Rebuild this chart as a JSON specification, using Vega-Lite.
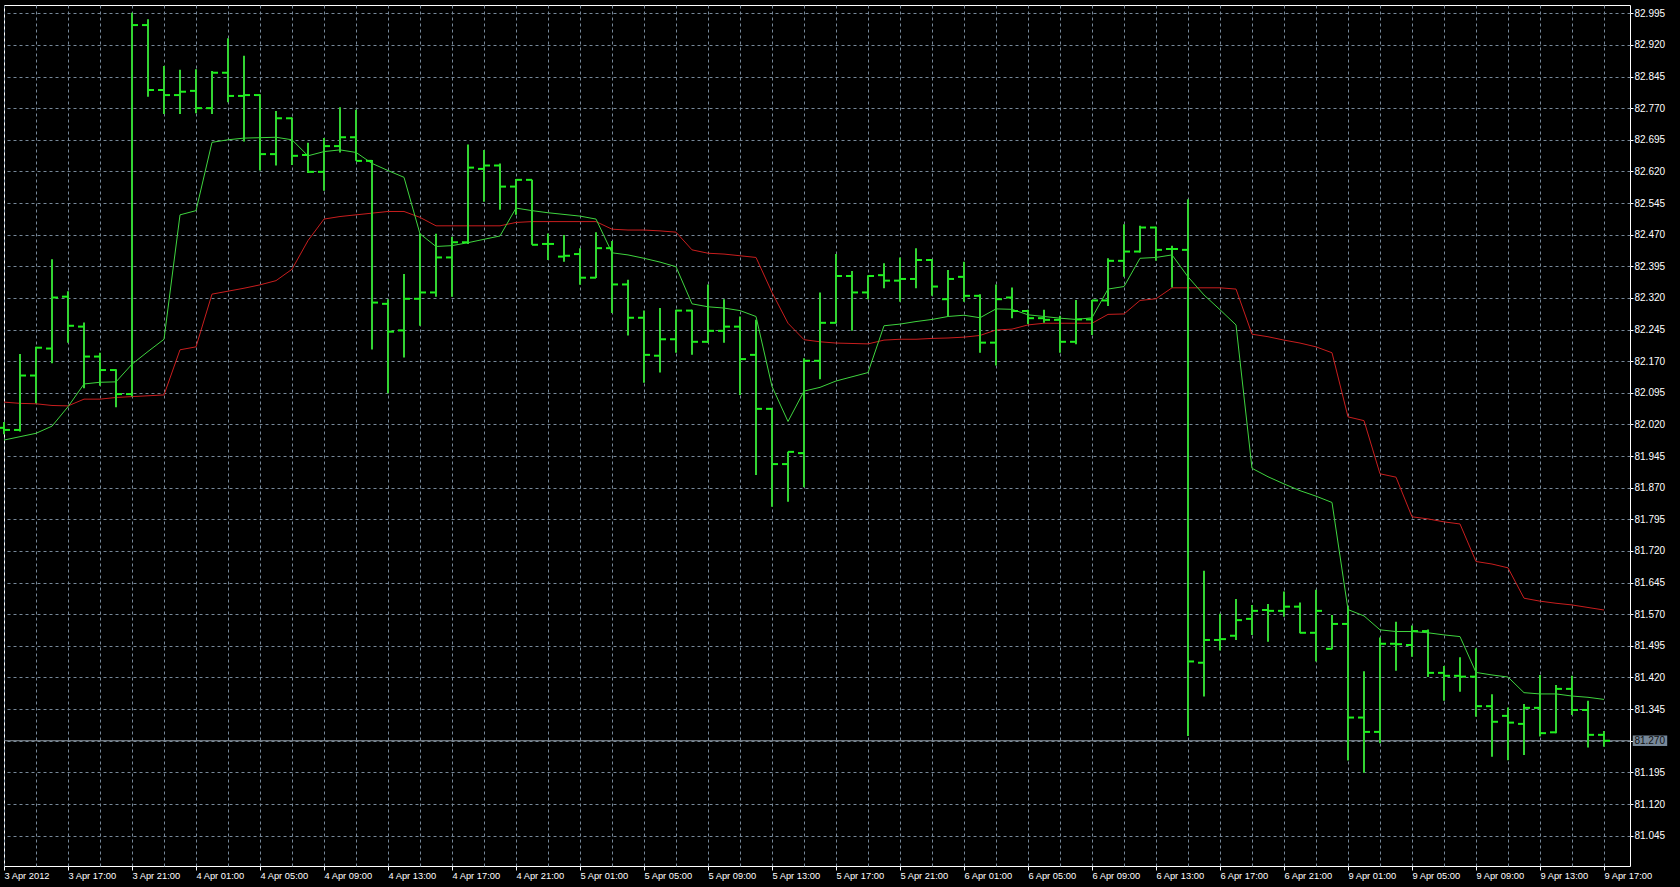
{
  "$schema": "https://vega.github.io/schema/vega-lite/v6.json",
  "width": 1626,
  "height": 861,
  "autosize": {"type": "none"},
  "padding": {"left": 4, "top": 5, "right": 50, "bottom": 21},
  "background": "#000000",
  "config": {
    "view": {"stroke": "#ffffff", "strokeWidth": 1, "fill": "#000000"},
    "font": "Liberation Sans",
    "axis": {"labelOverlap": false}
  },
  "data": {"values": [
    {"i":0,"t":"3 Apr 13:00","o":82.012,"h":82.026,"l":81.997,"c":82.007,"g":81.983,"r":82.073},
    {"i":1,"t":"3 Apr 14:00","o":82.007,"h":82.187,"l":82.003,"c":82.136,"g":81.991,"r":82.070},
    {"i":2,"t":"3 Apr 15:00","o":82.136,"h":82.204,"l":82.070,"c":82.202,"g":81.999,"r":82.069},
    {"i":3,"t":"3 Apr 16:00","o":82.200,"h":82.412,"l":82.165,"c":82.321,"g":82.016,"r":82.065},
    {"i":4,"t":"3 Apr 17:00","o":82.323,"h":82.336,"l":82.214,"c":82.254,"g":82.062,"r":82.064},
    {"i":5,"t":"3 Apr 18:00","o":82.252,"h":82.262,"l":82.106,"c":82.181,"g":82.116,"r":82.080},
    {"i":6,"t":"3 Apr 19:00","o":82.181,"h":82.190,"l":82.112,"c":82.149,"g":82.120,"r":82.080},
    {"i":7,"t":"3 Apr 20:00","o":82.149,"h":82.151,"l":82.061,"c":82.092,"g":82.121,"r":82.084},
    {"i":8,"t":"3 Apr 21:00","o":82.092,"h":82.996,"l":82.086,"c":82.967,"g":82.163,"r":82.086},
    {"i":9,"t":"3 Apr 22:00","o":82.967,"h":82.981,"l":82.797,"c":82.813,"g":82.193,"r":82.088},
    {"i":10,"t":"3 Apr 23:00","o":82.813,"h":82.870,"l":82.756,"c":82.801,"g":82.222,"r":82.090},
    {"i":11,"t":"4 Apr 00:00","o":82.801,"h":82.861,"l":82.756,"c":82.809,"g":82.517,"r":82.197},
    {"i":12,"t":"4 Apr 01:00","o":82.811,"h":82.862,"l":82.758,"c":82.770,"g":82.527,"r":82.204},
    {"i":13,"t":"4 Apr 02:00","o":82.770,"h":82.858,"l":82.756,"c":82.854,"g":82.689,"r":82.329},
    {"i":14,"t":"4 Apr 03:00","o":82.854,"h":82.936,"l":82.784,"c":82.799,"g":82.695,"r":82.336},
    {"i":15,"t":"4 Apr 04:00","o":82.799,"h":82.894,"l":82.691,"c":82.801,"g":82.699,"r":82.343},
    {"i":16,"t":"4 Apr 05:00","o":82.801,"h":82.803,"l":82.622,"c":82.661,"g":82.700,"r":82.351},
    {"i":17,"t":"4 Apr 06:00","o":82.661,"h":82.763,"l":82.634,"c":82.746,"g":82.701,"r":82.361},
    {"i":18,"t":"4 Apr 07:00","o":82.746,"h":82.748,"l":82.635,"c":82.657,"g":82.695,"r":82.388},
    {"i":19,"t":"4 Apr 08:00","o":82.659,"h":82.688,"l":82.616,"c":82.619,"g":82.657,"r":82.456},
    {"i":20,"t":"4 Apr 09:00","o":82.619,"h":82.699,"l":82.574,"c":82.680,"g":82.667,"r":82.507},
    {"i":21,"t":"4 Apr 10:00","o":82.680,"h":82.772,"l":82.665,"c":82.701,"g":82.671,"r":82.513},
    {"i":22,"t":"4 Apr 11:00","o":82.701,"h":82.766,"l":82.645,"c":82.645,"g":82.665,"r":82.517},
    {"i":23,"t":"4 Apr 12:00","o":82.645,"h":82.647,"l":82.198,"c":82.309,"g":82.639,"r":82.521},
    {"i":24,"t":"4 Apr 13:00","o":82.306,"h":82.317,"l":82.094,"c":82.240,"g":82.622,"r":82.525},
    {"i":25,"t":"4 Apr 14:00","o":82.243,"h":82.377,"l":82.179,"c":82.318,"g":82.606,"r":82.525},
    {"i":26,"t":"4 Apr 15:00","o":82.318,"h":82.473,"l":82.254,"c":82.333,"g":82.472,"r":82.511},
    {"i":27,"t":"4 Apr 16:00","o":82.333,"h":82.472,"l":82.323,"c":82.416,"g":82.442,"r":82.491},
    {"i":28,"t":"4 Apr 17:00","o":82.416,"h":82.465,"l":82.323,"c":82.452,"g":82.444,"r":82.491},
    {"i":29,"t":"4 Apr 18:00","o":82.452,"h":82.684,"l":82.448,"c":82.629,"g":82.451,"r":82.491},
    {"i":30,"t":"4 Apr 19:00","o":82.626,"h":82.671,"l":82.548,"c":82.634,"g":82.459,"r":82.491},
    {"i":31,"t":"4 Apr 20:00","o":82.634,"h":82.639,"l":82.529,"c":82.584,"g":82.467,"r":82.491},
    {"i":32,"t":"4 Apr 21:00","o":82.584,"h":82.602,"l":82.517,"c":82.600,"g":82.533,"r":82.499},
    {"i":33,"t":"4 Apr 22:00","o":82.600,"h":82.600,"l":82.446,"c":82.446,"g":82.527,"r":82.501},
    {"i":34,"t":"4 Apr 23:00","o":82.448,"h":82.473,"l":82.410,"c":82.448,"g":82.522,"r":82.501},
    {"i":35,"t":"5 Apr 00:00","o":82.418,"h":82.469,"l":82.406,"c":82.420,"g":82.518,"r":82.501},
    {"i":36,"t":"5 Apr 01:00","o":82.424,"h":82.438,"l":82.351,"c":82.368,"g":82.514,"r":82.501},
    {"i":37,"t":"5 Apr 02:00","o":82.368,"h":82.476,"l":82.367,"c":82.438,"g":82.507,"r":82.501},
    {"i":38,"t":"5 Apr 03:00","o":82.438,"h":82.455,"l":82.284,"c":82.352,"g":82.427,"r":82.483},
    {"i":39,"t":"5 Apr 04:00","o":82.352,"h":82.363,"l":82.231,"c":82.273,"g":82.422,"r":82.481},
    {"i":40,"t":"5 Apr 05:00","o":82.273,"h":82.290,"l":82.119,"c":82.185,"g":82.414,"r":82.481},
    {"i":41,"t":"5 Apr 06:00","o":82.183,"h":82.296,"l":82.143,"c":82.222,"g":82.405,"r":82.479},
    {"i":42,"t":"5 Apr 07:00","o":82.222,"h":82.292,"l":82.190,"c":82.290,"g":82.394,"r":82.476},
    {"i":43,"t":"5 Apr 08:00","o":82.290,"h":82.292,"l":82.185,"c":82.216,"g":82.306,"r":82.434},
    {"i":44,"t":"5 Apr 09:00","o":82.216,"h":82.352,"l":82.213,"c":82.242,"g":82.299,"r":82.426},
    {"i":45,"t":"5 Apr 10:00","o":82.242,"h":82.317,"l":82.214,"c":82.252,"g":82.296,"r":82.424},
    {"i":46,"t":"5 Apr 11:00","o":82.252,"h":82.276,"l":82.090,"c":82.175,"g":82.290,"r":82.420},
    {"i":47,"t":"5 Apr 12:00","o":82.185,"h":82.268,"l":81.900,"c":82.057,"g":82.276,"r":82.416},
    {"i":48,"t":"5 Apr 13:00","o":82.057,"h":82.058,"l":81.825,"c":81.926,"g":82.110,"r":82.333},
    {"i":49,"t":"5 Apr 14:00","o":81.926,"h":81.955,"l":81.837,"c":81.955,"g":82.027,"r":82.260},
    {"i":50,"t":"5 Apr 15:00","o":81.952,"h":82.177,"l":81.871,"c":82.171,"g":82.099,"r":82.221},
    {"i":51,"t":"5 Apr 16:00","o":82.171,"h":82.333,"l":82.127,"c":82.261,"g":82.108,"r":82.216},
    {"i":52,"t":"5 Apr 17:00","o":82.261,"h":82.424,"l":82.260,"c":82.372,"g":82.123,"r":82.213},
    {"i":53,"t":"5 Apr 18:00","o":82.372,"h":82.384,"l":82.242,"c":82.333,"g":82.133,"r":82.212},
    {"i":54,"t":"5 Apr 19:00","o":82.333,"h":82.374,"l":82.317,"c":82.372,"g":82.143,"r":82.211},
    {"i":55,"t":"5 Apr 20:00","o":82.374,"h":82.402,"l":82.343,"c":82.361,"g":82.254,"r":82.220},
    {"i":56,"t":"5 Apr 21:00","o":82.361,"h":82.416,"l":82.311,"c":82.365,"g":82.258,"r":82.222},
    {"i":57,"t":"5 Apr 22:00","o":82.365,"h":82.438,"l":82.343,"c":82.410,"g":82.264,"r":82.222},
    {"i":58,"t":"5 Apr 23:00","o":82.410,"h":82.412,"l":82.325,"c":82.347,"g":82.269,"r":82.224},
    {"i":59,"t":"6 Apr 00:00","o":82.317,"h":82.386,"l":82.276,"c":82.365,"g":82.276,"r":82.225},
    {"i":60,"t":"6 Apr 01:00","o":82.370,"h":82.406,"l":82.311,"c":82.325,"g":82.279,"r":82.227},
    {"i":61,"t":"6 Apr 02:00","o":82.325,"h":82.329,"l":82.190,"c":82.214,"g":82.273,"r":82.231},
    {"i":62,"t":"6 Apr 03:00","o":82.214,"h":82.352,"l":82.160,"c":82.317,"g":82.294,"r":82.244},
    {"i":63,"t":"6 Apr 04:00","o":82.321,"h":82.345,"l":82.272,"c":82.289,"g":82.293,"r":82.246},
    {"i":64,"t":"6 Apr 05:00","o":82.289,"h":82.292,"l":82.258,"c":82.272,"g":82.280,"r":82.256},
    {"i":65,"t":"6 Apr 06:00","o":82.272,"h":82.292,"l":82.261,"c":82.268,"g":82.276,"r":82.260},
    {"i":66,"t":"6 Apr 07:00","o":82.268,"h":82.278,"l":82.190,"c":82.216,"g":82.272,"r":82.260},
    {"i":67,"t":"6 Apr 08:00","o":82.216,"h":82.315,"l":82.210,"c":82.269,"g":82.269,"r":82.260},
    {"i":68,"t":"6 Apr 09:00","o":82.269,"h":82.315,"l":82.232,"c":82.314,"g":82.273,"r":82.260},
    {"i":69,"t":"6 Apr 10:00","o":82.314,"h":82.414,"l":82.301,"c":82.408,"g":82.341,"r":82.281},
    {"i":70,"t":"6 Apr 11:00","o":82.408,"h":82.495,"l":82.370,"c":82.430,"g":82.347,"r":82.282},
    {"i":71,"t":"6 Apr 12:00","o":82.430,"h":82.491,"l":82.428,"c":82.487,"g":82.414,"r":82.314},
    {"i":72,"t":"6 Apr 13:00","o":82.487,"h":82.489,"l":82.408,"c":82.434,"g":82.416,"r":82.318},
    {"i":73,"t":"6 Apr 14:00","o":82.436,"h":82.444,"l":82.345,"c":82.436,"g":82.422,"r":82.344},
    {"i":74,"t":"6 Apr 15:00","o":82.434,"h":82.554,"l":81.281,"c":81.458,"g":82.370,"r":82.344},
    {"i":75,"t":"6 Apr 16:00","o":81.455,"h":81.673,"l":81.375,"c":81.509,"g":82.327,"r":82.344},
    {"i":76,"t":"6 Apr 17:00","o":81.509,"h":81.571,"l":81.484,"c":81.511,"g":82.292,"r":82.344},
    {"i":77,"t":"6 Apr 18:00","o":81.519,"h":81.606,"l":81.509,"c":81.556,"g":82.256,"r":82.341},
    {"i":78,"t":"6 Apr 19:00","o":81.559,"h":81.592,"l":81.521,"c":81.578,"g":81.916,"r":82.234},
    {"i":79,"t":"6 Apr 20:00","o":81.580,"h":81.594,"l":81.505,"c":81.578,"g":81.896,"r":82.228},
    {"i":80,"t":"6 Apr 21:00","o":81.578,"h":81.624,"l":81.564,"c":81.588,"g":81.879,"r":82.220},
    {"i":81,"t":"6 Apr 22:00","o":81.588,"h":81.598,"l":81.525,"c":81.526,"g":81.863,"r":82.213},
    {"i":82,"t":"6 Apr 23:00","o":81.526,"h":81.628,"l":81.458,"c":81.578,"g":81.850,"r":82.204},
    {"i":83,"t":"9 Apr 00:00","o":81.488,"h":81.568,"l":81.487,"c":81.547,"g":81.835,"r":82.190},
    {"i":84,"t":"9 Apr 01:00","o":81.547,"h":81.588,"l":81.223,"c":81.325,"g":81.581,"r":82.038},
    {"i":85,"t":"9 Apr 02:00","o":81.325,"h":81.435,"l":81.194,"c":81.291,"g":81.566,"r":82.029},
    {"i":86,"t":"9 Apr 03:00","o":81.291,"h":81.515,"l":81.264,"c":81.500,"g":81.533,"r":81.903},
    {"i":87,"t":"9 Apr 04:00","o":81.500,"h":81.552,"l":81.436,"c":81.499,"g":81.529,"r":81.895},
    {"i":88,"t":"9 Apr 05:00","o":81.497,"h":81.543,"l":81.469,"c":81.530,"g":81.529,"r":81.801},
    {"i":89,"t":"9 Apr 06:00","o":81.530,"h":81.534,"l":81.421,"c":81.431,"g":81.526,"r":81.796},
    {"i":90,"t":"9 Apr 07:00","o":81.431,"h":81.447,"l":81.365,"c":81.424,"g":81.521,"r":81.789},
    {"i":91,"t":"9 Apr 08:00","o":81.424,"h":81.468,"l":81.386,"c":81.422,"g":81.517,"r":81.784},
    {"i":92,"t":"9 Apr 09:00","o":81.422,"h":81.489,"l":81.327,"c":81.352,"g":81.432,"r":81.695},
    {"i":93,"t":"9 Apr 10:00","o":81.352,"h":81.380,"l":81.232,"c":81.315,"g":81.426,"r":81.689},
    {"i":94,"t":"9 Apr 11:00","o":81.329,"h":81.349,"l":81.224,"c":81.313,"g":81.421,"r":81.680},
    {"i":95,"t":"9 Apr 12:00","o":81.310,"h":81.357,"l":81.236,"c":81.348,"g":81.384,"r":81.608},
    {"i":96,"t":"9 Apr 13:00","o":81.348,"h":81.426,"l":81.280,"c":81.288,"g":81.381,"r":81.601},
    {"i":97,"t":"9 Apr 14:00","o":81.290,"h":81.402,"l":81.288,"c":81.393,"g":81.381,"r":81.596},
    {"i":98,"t":"9 Apr 15:00","o":81.393,"h":81.424,"l":81.331,"c":81.343,"g":81.376,"r":81.592},
    {"i":99,"t":"9 Apr 16:00","o":81.343,"h":81.365,"l":81.254,"c":81.284,"g":81.373,"r":81.586},
    {"i":100,"t":"9 Apr 17:00","o":81.284,"h":81.293,"l":81.256,"c":81.270,"g":81.368,"r":81.580}
  ]},
  "layer": [
    {
      "mark": {"type": "line", "color": "#c81e1e", "strokeWidth": 1, "interpolate": "linear"},
      "encoding": {
        "x": {"field": "i", "type": "quantitative",
          "scale": {"domain": [0, 101.625], "nice": false, "zero": false},
          "axis": {
            "orient": "bottom", "title": null, "domain": false, "tickCount": 200,
            "values": [0,2,4,6,8,10,12,14,16,18,20,22,24,26,28,30,32,34,36,38,40,42,44,46,48,50,52,54,56,58,60,62,64,66,68,70,72,74,76,78,80,82,84,86,88,90,92,94,96,98,100],
            "labelExpr": "datum.value % 4 === 0 ? ['3 Apr 2012','3 Apr 17:00','3 Apr 21:00','4 Apr 01:00','4 Apr 05:00','4 Apr 09:00','4 Apr 13:00','4 Apr 17:00','4 Apr 21:00','5 Apr 01:00','5 Apr 05:00','5 Apr 09:00','5 Apr 13:00','5 Apr 17:00','5 Apr 21:00','6 Apr 01:00','6 Apr 05:00','6 Apr 09:00','6 Apr 13:00','6 Apr 17:00','6 Apr 21:00','9 Apr 01:00','9 Apr 05:00','9 Apr 09:00','9 Apr 13:00','9 Apr 17:00'][datum.value / 4] : ''",
            "labelAlign": "left", "labelBaseline": "top", "labelPadding": 1,
            "labelColor": "#ffffff", "labelFont": "Liberation Sans", "labelFontSize": 9.3,
            "labelOverlap": false, "labelFlush": false, "labelBound": false,
            "tickSize": 4, "tickWidth": 1,
            "tickColor": {"condition": {"test": "datum.value % 4 === 0", "value": "#ffffff"}, "value": "transparent"},
            "grid": true, "gridColor": "#778899", "gridDash": [3, 3], "gridWidth": 1
          }
        },
        "y": {"field": "r", "type": "quantitative",
          "scale": {"domain": [80.973, 83.0146], "nice": false, "zero": false},
          "axis": {
            "orient": "right", "title": null, "domain": false, "tickCount": 200,
            "values": [81.045,81.12,81.195,81.27,81.345,81.42,81.495,81.57,81.645,81.72,81.795,81.87,81.945,82.02,82.095,82.17,82.245,82.32,82.395,82.47,82.545,82.62,82.695,82.77,82.845,82.92,82.995],
            "format": ".3f",
            "labelColor": "#ffffff", "labelFont": "Liberation Sans", "labelFontSize": 10,
            "labelPadding": 1, "labelOverlap": false, "labelBound": false, "labelFlush": false,
            "tickSize": 3, "tickColor": "#ffffff", "tickWidth": 1,
            "grid": true, "gridColor": "#778899", "gridDash": [3, 3], "gridWidth": 1
          }
        }
      }
    },
    {
      "mark": {"type": "line", "color": "#3fd43f", "strokeWidth": 1, "interpolate": "linear"},
      "encoding": {
        "x": {"field": "i", "type": "quantitative"},
        "y": {"field": "g", "type": "quantitative"}
      }
    },
    {
      "data": {"values": [{"last": 81.27, "tag": "81.270"}]},
      "mark": {"type": "rule", "color": "#8e98a3", "strokeWidth": 1},
      "encoding": {"y": {"field": "last", "type": "quantitative"}}
    },
    {
      "mark": {"type": "rule", "color": "#33d433", "strokeWidth": 2},
      "encoding": {
        "x": {"field": "i", "type": "quantitative"},
        "y": {"field": "l", "type": "quantitative"},
        "y2": {"field": "h"}
      }
    },
    {
      "mark": {"type": "tick", "orient": "horizontal", "color": "#1ef01e", "size": 6, "thickness": 2, "xOffset": -3, "opacity": 1},
      "encoding": {
        "x": {"field": "i", "type": "quantitative"},
        "y": {"field": "o", "type": "quantitative"}
      }
    },
    {
      "mark": {"type": "tick", "orient": "horizontal", "color": "#1ef01e", "size": 6, "thickness": 2, "xOffset": 3, "opacity": 1},
      "encoding": {
        "x": {"field": "i", "type": "quantitative"},
        "y": {"field": "c", "type": "quantitative"}
      }
    },
    {
      "data": {"values": [{"last": 81.27, "tag": "81.270"}]},
      "mark": {"type": "rect", "color": "#778899", "opacity": 1},
      "encoding": {
        "x": {"datum": 101.8, "type": "quantitative"},
        "x2": {"datum": 103.95},
        "y": {"datum": 81.2825, "type": "quantitative"},
        "y2": {"datum": 81.2575}
      }
    },
    {
      "data": {"values": [{"last": 81.27, "tag": "81.270"}]},
      "mark": {"type": "text", "align": "left", "baseline": "middle", "color": "#111111", "font": "Liberation Sans", "fontSize": 10},
      "encoding": {
        "x": {"datum": 101.9, "type": "quantitative"},
        "y": {"field": "last", "type": "quantitative"},
        "text": {"field": "tag"}
      }
    }
  ]
}
